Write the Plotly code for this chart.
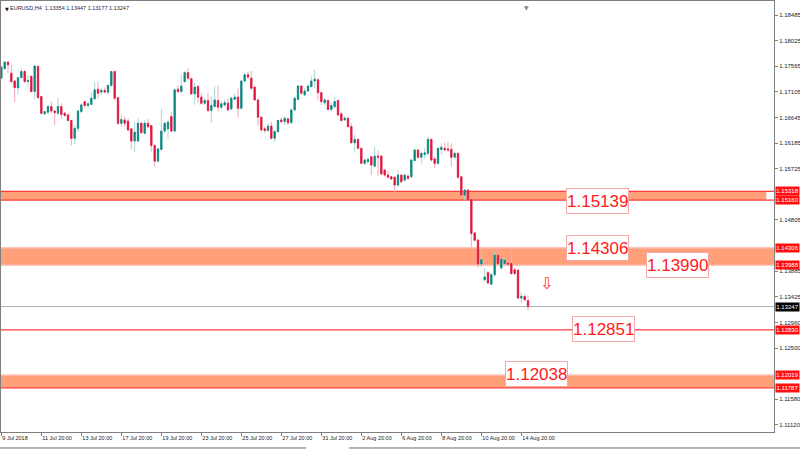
import plotly.graph_objects as go

# ---------------- data (EURUSD H4) ----------------
opens = [1.1735, 1.1752, 1.1764, 1.1744, 1.1730, 1.1718, 1.1736, 1.1747, 1.1729, 1.1738,
         1.1711, 1.1756, 1.1702, 1.1671, 1.1674, 1.1684, 1.1676, 1.1672, 1.1684, 1.1672,
         1.1669, 1.1659, 1.1627, 1.1645, 1.1675, 1.1693, 1.1686, 1.1688, 1.1698, 1.1715,
         1.1710, 1.1713, 1.1710, 1.1722, 1.1747, 1.1700, 1.1654, 1.1660, 1.1658, 1.1644,
         1.1622, 1.1622, 1.1654, 1.1636, 1.1654, 1.1650, 1.1614, 1.1586, 1.1607, 1.1640,
         1.1644, 1.1666, 1.1640, 1.1715, 1.1711, 1.1729, 1.1745, 1.1734, 1.1707, 1.1720,
         1.1701, 1.1690, 1.1695, 1.1677, 1.1684, 1.1695, 1.1683, 1.1687, 1.1690, 1.1680,
         1.1697, 1.1701, 1.1681, 1.1730, 1.1741, 1.1735, 1.1719, 1.1696, 1.1665, 1.1644,
         1.1641, 1.1649, 1.1627, 1.1639, 1.1660, 1.1657, 1.1662, 1.1655, 1.1678, 1.1697,
         1.1721, 1.1705, 1.1712, 1.1720, 1.1730, 1.1732, 1.1709, 1.1691, 1.1695, 1.1679,
         1.1684, 1.1695, 1.1671, 1.1660, 1.1663, 1.1648, 1.1619, 1.1625, 1.1609, 1.1582,
         1.1585, 1.1594, 1.1577, 1.1595, 1.1595, 1.1570, 1.1561, 1.1558, 1.1557, 1.1543,
         1.1561, 1.1552, 1.1559, 1.1558, 1.1587, 1.1606, 1.1593, 1.1598, 1.1600, 1.1625,
         1.1590, 1.1582, 1.1607, 1.1609, 1.1608, 1.1607, 1.1593, 1.1600, 1.1558, 1.1525,
         1.1534, 1.1517, 1.1457, 1.1444, 1.1401, 1.1373, 1.1386, 1.1365, 1.1382, 1.1417,
         1.1394, 1.1402, 1.1403, 1.1402, 1.1391, 1.1390, 1.1340, 1.1343, 1.13354]
highs = [1.1757, 1.1766, 1.1765, 1.1759, 1.1731, 1.1737, 1.1752, 1.1750, 1.1741, 1.1741,
         1.1759, 1.1759, 1.1703, 1.1676, 1.1687, 1.1693, 1.1678, 1.1699, 1.1690, 1.1675,
         1.1672, 1.1660, 1.1651, 1.1678, 1.1690, 1.1694, 1.1693, 1.1710, 1.1729, 1.1729,
         1.1717, 1.1718, 1.1724, 1.1748, 1.1748, 1.1702, 1.1670, 1.1666, 1.1663, 1.1645,
         1.1657, 1.1663, 1.1657, 1.1660, 1.1662, 1.1651, 1.1616, 1.1610, 1.1680, 1.1657,
         1.1660, 1.1675, 1.1717, 1.1723, 1.1741, 1.1748, 1.1753, 1.1735, 1.1727, 1.1723,
         1.1708, 1.1699, 1.1708, 1.1702, 1.1720, 1.1721, 1.1693, 1.1697, 1.1699, 1.1702,
         1.1708, 1.1717, 1.1732, 1.1744, 1.1747, 1.1748, 1.1720, 1.1697, 1.1666, 1.1648,
         1.1654, 1.1657, 1.1642, 1.1661, 1.1665, 1.1666, 1.1663, 1.1681, 1.1701, 1.1723,
         1.1723, 1.1717, 1.1723, 1.1738, 1.1751, 1.1735, 1.1711, 1.1699, 1.1697, 1.1690,
         1.1702, 1.1696, 1.1675, 1.1667, 1.1666, 1.1654, 1.1633, 1.1627, 1.1610, 1.1591,
         1.1593, 1.1595, 1.1612, 1.1605, 1.1597, 1.1571, 1.1569, 1.1559, 1.1558, 1.1570,
         1.1563, 1.1563, 1.1563, 1.1590, 1.1609, 1.1607, 1.1603, 1.1609, 1.1630, 1.1627,
         1.1594, 1.1612, 1.1618, 1.1619, 1.1621, 1.1618, 1.1603, 1.1601, 1.1559, 1.1536,
         1.1536, 1.1519, 1.1459, 1.1446, 1.1428, 1.1394, 1.1389, 1.1385, 1.1423, 1.1432,
         1.1414, 1.1411, 1.1407, 1.1431, 1.1394, 1.1392, 1.1350, 1.1346, 1.13447]
lows = [1.1734, 1.1751, 1.1744, 1.1726, 1.1692, 1.1706, 1.1735, 1.1726, 1.1720, 1.1709,
        1.1697, 1.1699, 1.1669, 1.1669, 1.1670, 1.1672, 1.1651, 1.1669, 1.1663, 1.1666,
        1.1657, 1.1614, 1.1616, 1.1639, 1.1672, 1.1681, 1.1680, 1.1687, 1.1696, 1.1699,
        1.1705, 1.1708, 1.1705, 1.1720, 1.1696, 1.1651, 1.1648, 1.1648, 1.1640, 1.1608,
        1.1602, 1.1621, 1.1636, 1.1634, 1.1645, 1.1603, 1.1576, 1.1585, 1.1606, 1.1636,
        1.1626, 1.1639, 1.1639, 1.1708, 1.1709, 1.1727, 1.1732, 1.1705, 1.1687, 1.1690,
        1.1687, 1.1687, 1.1675, 1.1655, 1.1683, 1.1675, 1.1679, 1.1684, 1.1677, 1.1677,
        1.1696, 1.1665, 1.1679, 1.1727, 1.1733, 1.1714, 1.1695, 1.1649, 1.1639, 1.1637,
        1.1639, 1.1625, 1.1621, 1.1637, 1.1654, 1.1651, 1.1651, 1.1654, 1.1677, 1.1696,
        1.1705, 1.1702, 1.1711, 1.1718, 1.1717, 1.1695, 1.1687, 1.1687, 1.1678, 1.1675,
        1.1681, 1.1667, 1.1657, 1.1659, 1.1647, 1.1618, 1.1601, 1.1607, 1.1581, 1.1579,
        1.1581, 1.1561, 1.1576, 1.1559, 1.1561, 1.1558, 1.1555, 1.1552, 1.1529, 1.1541,
        1.1547, 1.1549, 1.1552, 1.1555, 1.1585, 1.1590, 1.1582, 1.1590, 1.1597, 1.1585,
        1.1573, 1.1579, 1.1597, 1.1605, 1.1603, 1.1576, 1.1591, 1.1555, 1.1522, 1.1516,
        1.1516, 1.1432, 1.1441, 1.1394, 1.1396, 1.1370, 1.1365, 1.1364, 1.1378, 1.1399,
        1.1391, 1.1399, 1.1398, 1.1382, 1.1382, 1.1338, 1.1331, 1.1334, 1.13177]
closes = [1.1755, 1.1764, 1.1759, 1.1729, 1.1718, 1.1736, 1.1747, 1.1729, 1.1731, 1.1711,
          1.1757, 1.1700, 1.1672, 1.1675, 1.1684, 1.1676, 1.1673, 1.1684, 1.1670, 1.1668,
          1.1659, 1.1627, 1.1645, 1.1676, 1.1687, 1.1686, 1.1689, 1.1699, 1.1714, 1.1708,
          1.1713, 1.1710, 1.1722, 1.1747, 1.1699, 1.1654, 1.1661, 1.1654, 1.1642, 1.1622,
          1.1638, 1.1654, 1.1637, 1.1654, 1.1648, 1.1614, 1.1586, 1.1608, 1.1640, 1.1654,
          1.1656, 1.1640, 1.1714, 1.1711, 1.1721, 1.1745, 1.1735, 1.1707, 1.1719, 1.1701,
          1.1690, 1.1695, 1.1677, 1.1686, 1.1696, 1.1683, 1.1689, 1.1691, 1.1678, 1.1699,
          1.1701, 1.1681, 1.1730, 1.1741, 1.1737, 1.1717, 1.1696, 1.1665, 1.1642, 1.1641,
          1.1649, 1.1627, 1.1639, 1.1659, 1.1657, 1.1663, 1.1655, 1.1678, 1.1699, 1.1721,
          1.1708, 1.1712, 1.1721, 1.1730, 1.1733, 1.1709, 1.1693, 1.1696, 1.1679, 1.1686,
          1.1693, 1.1669, 1.1659, 1.1663, 1.1648, 1.1619, 1.1625, 1.1609, 1.1582, 1.1588,
          1.1589, 1.1579, 1.1595, 1.1593, 1.1563, 1.1561, 1.1557, 1.1554, 1.1543, 1.1561,
          1.1549, 1.1561, 1.1555, 1.1588, 1.1606, 1.1593, 1.1600, 1.1601, 1.1625, 1.1588,
          1.1582, 1.1609, 1.1611, 1.1606, 1.1606, 1.1593, 1.1600, 1.1557, 1.1525, 1.1534,
          1.1517, 1.1456, 1.1444, 1.1401, 1.1409, 1.1378, 1.1367, 1.1382, 1.1417, 1.1402,
          1.1410, 1.1408, 1.1401, 1.1384, 1.1384, 1.1340, 1.1343, 1.1337, 1.13247]

# x-axis labels (every 12 bars)
date_tick_bars = [0, 12, 24, 36, 48, 60, 72, 84, 96, 108, 120, 132, 144, 156]
date_tick_text = ["9 Jul 2018", "11 Jul 20:00", "13 Jul 20:00", "17 Jul 20:00", "19 Jul 20:00",
                  "23 Jul 20:00", "25 Jul 20:00", "27 Jul 20:00", "31 Jul 20:00", "2 Aug 20:00",
                  "6 Aug 20:00", "8 Aug 20:00", "10 Aug 20:00", "14 Aug 20:00"]

# price scale labels that are visible (others are covered by level tags in the reference)
price_tick_vals = [1.18485, 1.18025, 1.17565, 1.17105, 1.16645, 1.16185, 1.15725,
                   1.14805, 1.13885, 1.13425, 1.12960, 1.12500, 1.11580, 1.11120]
price_tick_text = ["%.5f" % v for v in price_tick_vals]

# zones (rectangles) and levels
zone_tops = [1.15318, 1.14306, 1.12019]
zone_bottoms = [1.15160, 1.13988, 1.11787]
red_levels = [1.15318, 1.15160, 1.12830, 1.11787]
pale_levels = [1.14306, 1.13988, 1.12019]
axis_level_labels = [1.15318, 1.15160, 1.14306, 1.13988, 1.12830, 1.12019, 1.11787]
current_price = 1.13247

level_texts = ["1.15139", "1.14306", "1.13990", "1.12851", "1.12038"]
level_text_prices = [1.15139, 1.14306, 1.13990, 1.12851, 1.12038]

title_text = "EURUSD,H4  1.13354 1.13447 1.13177 1.13247"

# ---------------- styling ----------------
UP = "#0a8783"
DN = "#e0163f"
UP_W = "#a9d6d4"
DN_W = "#f4a6b6"
SALMON = "#ffa07a"
FONT = "Liberation Sans, Arial, sans-serif"

label_x_pos = [178.7, 178.7, 202.7, 180.5, 160.4]

bars = list(range(len(opens)))
body_hi = [max(o, c) for o, c in zip(opens, closes)]
body_lo = [min(o, c) for o, c in zip(opens, closes)]

fig = go.Figure()
# wicks (light)
fig.add_trace(go.Candlestick(
    x=bars, open=opens, high=highs, low=lows, close=closes,
    increasing=dict(line=dict(color=UP_W, width=1), fillcolor=UP_W),
    decreasing=dict(line=dict(color=DN_W, width=1), fillcolor=DN_W),
    whiskerwidth=0, hoverinfo="skip", showlegend=False))
# bodies (solid)
fig.add_trace(go.Candlestick(
    x=bars, open=opens, high=body_hi, low=body_lo, close=closes,
    increasing=dict(line=dict(color=UP, width=0.8), fillcolor=UP),
    decreasing=dict(line=dict(color=DN, width=0.8), fillcolor=DN),
    whiskerwidth=0, hoverinfo="skip", showlegend=False))

shapes = []
zone_right = [0.99, 1.0, 1.0]
for top, bot, xr in zip(zone_tops, zone_bottoms, zone_right):
    shapes.append(dict(type="rect", xref="paper", yref="y", x0=0, x1=xr, y0=bot, y1=top,
                       fillcolor=SALMON, line=dict(width=0), layer="below"))
for v in pale_levels:
    shapes.append(dict(type="line", xref="paper", yref="y", x0=0, x1=1, y0=v, y1=v,
                       line=dict(color="#ffc4b8", width=1.5), layer="below"))
for v in red_levels:
    shapes.append(dict(type="line", xref="paper", yref="y", x0=0, x1=1, y0=v, y1=v,
                       line=dict(color="#ff3b3b", width=1.2), layer="below"))
shapes.append(dict(type="line", xref="paper", yref="y", x0=0, x1=1, y0=current_price, y1=current_price,
                   line=dict(color="#a6b0bb", width=1), layer="below"))
# window tab strip at the very bottom
shapes.append(dict(type="line", xref="paper", yref="paper", x0=-0.002, x1=0.3946, y0=-0.0371, y1=-0.0371,
                   line=dict(color="#6b6b6b", width=1)))
shapes.append(dict(type="line", xref="paper", yref="paper", x0=0.45, x1=1.04, y0=-0.0371, y1=-0.0371,
                   line=dict(color="#6b6b6b", width=1)))

annotations = []
for txt, p, xp in zip(level_texts, level_text_prices, label_x_pos):
    annotations.append(dict(x=xp, y=p, xref="x", yref="y", text=txt, showarrow=False,
                            font=dict(family=FONT, size=17, color="#ff1a1a"),
                            height=24,
                            bgcolor="white", bordercolor="#f7a9a9", borderwidth=1, borderpad=0))
for v in axis_level_labels:
    annotations.append(dict(x=1, y=v, xref="paper", yref="y", xanchor="left", xshift=1,
                            text="%.5f" % v, showarrow=False, width=23, height=8,
                            font=dict(family=FONT, size=6, color="white"),
                            bgcolor="#ff1010", borderpad=0))
annotations.append(dict(x=1, y=current_price, xref="paper", yref="y", xanchor="left", xshift=1,
                        text="%.5f" % current_price, showarrow=False, width=23, height=8,
                        font=dict(family=FONT, size=6, color="white"),
                        bgcolor="#000000", borderpad=0))
# title
annotations.append(dict(x=0, y=1, xref="paper", yref="paper", xanchor="left", yanchor="top",
                        xshift=2, yshift=-3, text="▼", showarrow=False,
                        font=dict(family="DejaVu Sans", size=5, color="#111")))
annotations.append(dict(x=0, y=1, xref="paper", yref="paper", xanchor="left", yanchor="top",
                        xshift=7, yshift=-2, text=title_text, showarrow=False,
                        font=dict(family=FONT, size=5.5, color="#1d2540")))
# chart-shift marker
annotations.append(dict(x=0.6796, y=1, xref="paper", yref="paper", xanchor="center", yanchor="top",
                        yshift=-1, text="▼", showarrow=False,
                        font=dict(family="DejaVu Sans", size=6, color="#8a8a8a")))
# sell arrow
annotations.append(dict(x=163.4, y=1.13654, xref="x", yref="y", text="⇩", showarrow=False,
                        font=dict(family="DejaVu Sans", size=16, color="#ff3030")))

fig.update_layout(
    width=800, height=450,
    margin=dict(l=1, r=26, t=1, b=18, autoexpand=False),
    paper_bgcolor="white", plot_bgcolor="white",
    showlegend=False, boxgap=0.45,
    shapes=shapes, annotations=annotations,
    xaxis=dict(range=[-0.1, 231.8], rangeslider=dict(visible=False), showgrid=False, zeroline=False,
               tickmode="array", tickvals=date_tick_bars, ticktext=date_tick_text, tickangle=0,
               automargin=False,
               ticks="outside", ticklen=3, tickcolor="#7f7f7f", ticklabelposition="outside right",
               tickfont=dict(family=FONT, size=5.5, color="#222"),
               showline=True, linecolor="#7f7f7f", linewidth=1, mirror=True),
    yaxis=dict(range=[1.10994, 1.18737], side="right", showgrid=False, zeroline=False,
               tickmode="array", tickvals=price_tick_vals, ticktext=price_tick_text,
               automargin=False,
               ticks="outside", ticklen=3, tickcolor="#7f7f7f",
               tickfont=dict(family=FONT, size=6, color="#222"),
               showline=True, linecolor="#7f7f7f", linewidth=1, mirror=True),
)

fig.write_html("out.html", config={"displayModeBar": False},
               post_script="document.body.style.margin='0px';")
